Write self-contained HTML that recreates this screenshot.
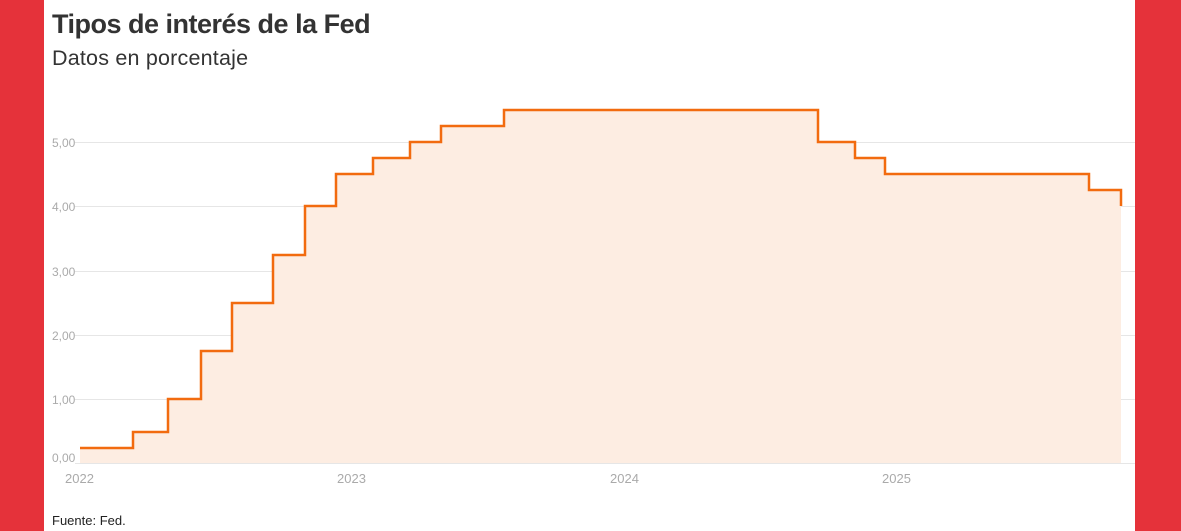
<!DOCTYPE html>
<html><head><meta charset="utf-8"><style>
body{margin:0;width:1181px;height:531px;overflow:hidden;background:#fff;font-family:"Liberation Sans",sans-serif;position:relative}
.r{position:absolute;top:0;height:531px;background:#e5323a}
</style></head><body>
<div class="r" style="left:0;width:44px"></div>
<div class="r" style="left:1135px;width:46px"></div>
<div style="position:absolute;left:52px;top:9px;font-size:27px;font-weight:bold;color:#333;letter-spacing:-0.5px">Tipos de interés de la Fed</div>
<div style="position:absolute;left:52px;top:46px;font-size:21.5px;color:#333;letter-spacing:0.2px">Datos en porcentaje</div>
<div style="position:absolute;left:52px;top:513px;font-size:13px;color:#222">Fuente: Fed.</div>
<svg style="position:absolute;left:0;top:0" width="1181" height="531">
<g stroke="#e6e6e6" stroke-width="1">
<line x1="75" x2="1135" y1="142.5" y2="142.5"/>
<line x1="75" x2="1135" y1="206.5" y2="206.5"/>
<line x1="75" x2="1135" y1="271.5" y2="271.5"/>
<line x1="75" x2="1135" y1="335.5" y2="335.5"/>
<line x1="75" x2="1135" y1="399.5" y2="399.5"/>
<line x1="75" x2="1135" y1="463.5" y2="463.5"/>
</g>
<g font-size="12" fill="#aaa" font-family="Liberation Sans,sans-serif">
<text x="52" y="147">5,00</text><text x="52" y="211">4,00</text><text x="52" y="276">3,00</text>
<text x="52" y="340">2,00</text><text x="52" y="404">1,00</text><text x="52" y="462">0,00</text>
<text x="65" y="483" font-size="13">2022</text><text x="337" y="483" font-size="13">2023</text>
<text x="610" y="483" font-size="13">2024</text><text x="882" y="483" font-size="13">2025</text>
</g>
<path d="M80 463 V448 H133 V432 H168 V399 H201 V351 H232 V303 H273 V255 H305 V206 H336 V174 H373 V158 H410 V142 H441 V126 H504 V110 H818 V142 H855 V158 H885 V174 H1089 V190 H1121 V463 Z" fill="#fdede2"/>
<path d="M80 448 H133 V432 H168 V399 H201 V351 H232 V303 H273 V255 H305 V206 H336 V174 H373 V158 H410 V142 H441 V126 H504 V110 H818 V142 H855 V158 H885 V174 H1089 V190 H1121 V206" fill="none" stroke="#f26b0f" stroke-width="2.5"/>
</svg>
</body></html>
